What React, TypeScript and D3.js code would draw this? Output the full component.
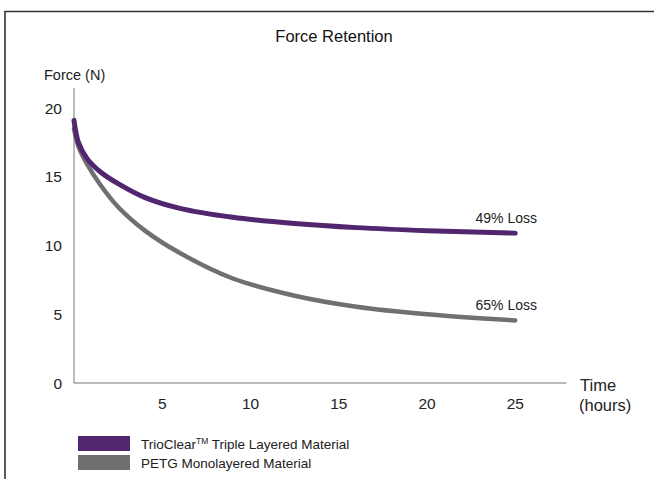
import React, { useRef, useEffect } from 'react';
import * as d3 from 'd3';

const hours = [0, 0.25, 0.75, 1.5, 2.5, 4, 6, 9, 12.5, 16, 20, 25];
const trioClear = [19.1, 17.5, 16.3, 15.35, 14.5, 13.5, 12.7, 12.05, 11.6, 11.3, 11.08, 10.9];
const petg = [18.5, 17.2, 15.9, 14.4, 12.8, 11.1, 9.45, 7.6, 6.35, 5.55, 5.0, 4.55];
const xTicks = [5, 10, 15, 20, 25];
const yTicks = [0, 5, 10, 15, 20];
const lossLabels = ['49% Loss', '65% Loss'];
const seriesNames = ['TrioClear', 'PETG Monolayered Material'];

const PURPLE = '#52266f';
const GRAY = '#707070';
const FONT = '"Liberation Sans", Arial, Helvetica, sans-serif';

const App = () => {
  const ref = useRef(null);

  useEffect(() => {
    const root = d3.select(ref.current);
    root.selectAll('*').remove();

    const width = 654;
    const height = 479;
    const svg = root.append('svg')
      .attr('width', width)
      .attr('height', height)
      .style('position', 'absolute')
      .style('left', 0)
      .style('top', 0)
      .style('font-family', FONT);

    svg.append('rect').attr('width', width).attr('height', height).attr('fill', '#fff');

    // frame
    svg.append('path')
      .attr('d', `M5,${height + 2} V11.5 H${width + 2}`)
      .attr('fill', 'none')
      .attr('stroke', '#333')
      .attr('stroke-width', 1.6);

    const x = d3.scaleLinear().domain([0, 25]).range([74, 515.25]);
    const y = d3.scaleLinear().domain([0, 20]).range([383, 108]);

    // title
    svg.append('text')
      .attr('x', 334).attr('y', 42)
      .attr('text-anchor', 'middle')
      .attr('font-size', 16.5)
      .attr('fill', '#111')
      .text('Force Retention');

    // axes
    svg.append('line')
      .attr('x1', x(0)).attr('x2', x(27.9))
      .attr('y1', y(0)).attr('y2', y(0))
      .attr('stroke', '#777').attr('stroke-width', 1);
    svg.append('line')
      .attr('x1', x(0)).attr('x2', x(0))
      .attr('y1', y(0)).attr('y2', y(21.45))
      .attr('stroke', '#777').attr('stroke-width', 1);

    svg.selectAll('.xt').data(xTicks).enter().append('text')
      .attr('class', 'xt')
      .attr('x', d => x(d)).attr('y', y(0) + 26)
      .attr('text-anchor', 'middle')
      .attr('font-size', 15.5).attr('fill', '#222')
      .text(d => d);

    svg.selectAll('.yt').data(yTicks).enter().append('text')
      .attr('class', 'yt')
      .attr('x', 62).attr('y', d => y(d) + 5.5)
      .attr('text-anchor', 'end')
      .attr('font-size', 15.5).attr('fill', '#222')
      .text(d => d);

    svg.append('text')
      .attr('x', 44).attr('y', 80)
      .attr('font-size', 14.5).attr('fill', '#222')
      .text('Force (N)');

    const tl = svg.append('text').attr('font-size', 16.5).attr('fill', '#222');
    tl.append('tspan').attr('x', 580).attr('y', 391).text('Time');
    tl.append('tspan').attr('x', 579).attr('y', 411).text('(hours)');

    const line = d3.line<number>()
      .x((_, i) => x(hours[i]))
      .y(d => y(d))
      .curve(d3.curveCatmullRom.alpha(0.5));

    svg.append('path')
      .attr('d', line(petg))
      .attr('fill', 'none')
      .attr('stroke', GRAY)
      .attr('stroke-width', 4.5)
      .attr('stroke-linecap', 'round');

    svg.append('path')
      .attr('d', line(trioClear))
      .attr('fill', 'none')
      .attr('stroke', PURPLE)
      .attr('stroke-width', 5)
      .attr('stroke-linecap', 'round');

    const ends = [trioClear[trioClear.length - 1], petg[petg.length - 1]];
    svg.selectAll('.loss').data(lossLabels).enter().append('text')
      .attr('class', 'loss')
      .attr('x', 537).attr('y', (_, i) => y(ends[i]) - 10)
      .attr('text-anchor', 'end')
      .attr('font-size', 14).attr('fill', '#222')
      .text(d => d);

    // legend
    const colors = [PURPLE, GRAY];
    const lg = svg.selectAll('.lg').data(seriesNames).enter().append('g')
      .attr('class', 'lg')
      .attr('transform', (_, i) => `translate(78, ${436 + i * 19})`);
    lg.append('rect')
      .attr('width', 52).attr('height', 15)
      .attr('fill', (_, i) => colors[i]);
    lg.each(function (d, i) {
      const t = d3.select(this).append('text')
        .attr('x', 63).attr('y', 12.5)
        .attr('font-size', 13.5).attr('fill', '#222');
      if (i === 0) {
        t.append('tspan').text(d);
        t.append('tspan').attr('font-size', 8.5).attr('dy', -5).text('TM');
        t.append('tspan').attr('dy', 5).text(' Triple Layered Material');
      } else {
        t.text(d);
      }
    });
  }, []);

  return <div ref={ref}></div>;
};

export default App;
